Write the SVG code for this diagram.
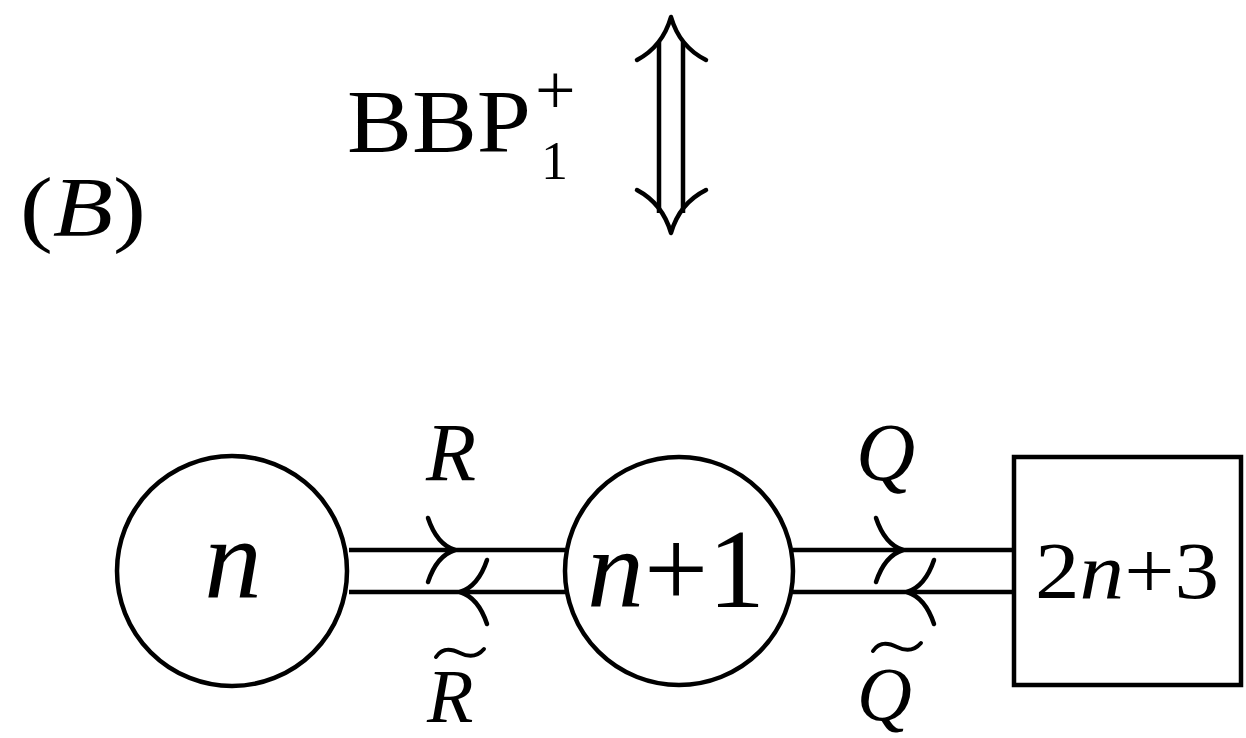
<svg xmlns="http://www.w3.org/2000/svg" width="1246" height="738" viewBox="0 0 1246 738">
<style>
.s{fill:none;stroke:#000;stroke-width:4.5;stroke-linecap:round;stroke-linejoin:round}
.l{fill:none;stroke:#000;stroke-width:4.5}
text{font-family:'Liberation Serif','Times New Roman',Times,serif;fill:#000}
.i{font-style:italic}
</style>
<rect width="1246" height="738" fill="#fff"/>
<g id="label-B">
<text x="20" y="236" font-size="84" textLength="126" lengthAdjust="spacingAndGlyphs">(<tspan class="i">B</tspan>)</text>
</g>
<g id="bbp">
<text x="347" y="151" font-size="88" textLength="184" lengthAdjust="spacingAndGlyphs">BBP</text>
<text x="535" y="114" font-size="72">+</text>
<text x="541" y="179" font-size="54">1</text>
</g>
<g id="equiv">
<line class="l" x1="659" y1="42" x2="659" y2="213"/>
<line class="l" x1="683" y1="42" x2="683" y2="213"/>
<path class="s" d="M637,60 C652,52 665,38 671,17 C677,38 690,52 706,60"/>
<path class="s" d="M637,190 C652,198 665,212 671,233 C677,212 690,198 706,190"/>
</g>
<g id="connectors">
<line class="l" x1="349" y1="550" x2="565" y2="550"/>
<line class="l" x1="349" y1="592" x2="565" y2="592"/>
<line class="l" x1="793" y1="550" x2="1013" y2="550"/>
<line class="l" x1="793" y1="592" x2="1013" y2="592"/>
<path class="s" d="M428,518 C433,533 442,546 455,550 C442,554 433,567 428,582"/>
<path class="s" d="M487,560 C482,575 473,588 460,592 C473,596 482,609 487,624"/>
<path class="s" d="M876,518 C881,533 890,546 903,550 C890,554 881,567 876,582"/>
<path class="s" d="M934,560 C929,575 920,588 907,592 C920,596 929,609 934,624"/>
<text class="i" x="426" y="480" font-size="82">R</text>
<text class="i" x="856" y="480" font-size="82">Q</text>
<text class="i" x="427" y="722" font-size="76">R</text>
<path d="M436,657 C442,648 450,648 460,653 C470,658 478,656 484,649" fill="none" stroke="#000" stroke-width="4" stroke-linecap="round"/>
<text class="i" x="857" y="720" font-size="76">Q</text>
<path d="M873,651 C879,642 887,642 897,647 C907,652 915,650 921,643" fill="none" stroke="#000" stroke-width="4" stroke-linecap="round"/>
</g>
<g id="node-n">
<circle class="l" cx="232" cy="571" r="115"/>
<text class="i" x="233" y="598" font-size="115" text-anchor="middle">n</text>
</g>
<g id="node-n1">
<circle class="l" cx="679" cy="571" r="114"/>
<text x="676" y="607" font-size="112" text-anchor="middle" textLength="178" lengthAdjust="spacingAndGlyphs"><tspan class="i">n</tspan>+1</text>
</g>
<g id="node-2n3">
<rect class="l" x="1014" y="457" width="227" height="228"/>
<text x="1127" y="598" font-size="80" text-anchor="middle" textLength="184" lengthAdjust="spacingAndGlyphs">2<tspan class="i">n</tspan>+3</text>
</g>
</svg>
